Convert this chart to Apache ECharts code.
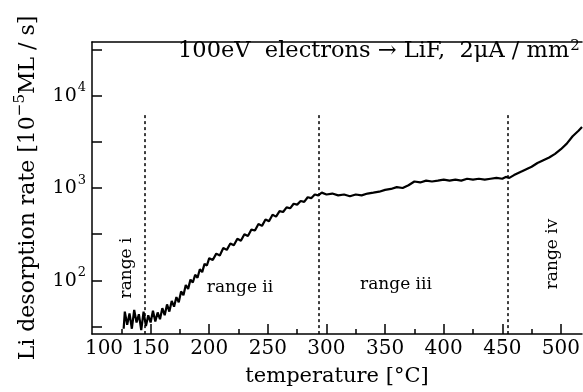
<!DOCTYPE html>
<html>
<head>
<meta charset="utf-8">
<script src="https://cdn.jsdelivr.net/npm/echarts@6/dist/echarts.min.js"></script>
<style>
  html, body { margin: 0; padding: 0; background: #fff; }
  #chart { width: 583px; height: 392px; }
</style>
</head>
<body>
<div id="chart"></div>
<script>
// desorption curve (temperature in °C, rate in 10^-5 ML/s)
const temperature = [
  127, 128, 130, 132, 134, 136, 138, 140, 142, 144, 146, 148, 150, 152, 154, 156, 158, 160, 162,
  164, 166, 168, 170, 172, 174, 176, 178, 180, 182, 184, 186, 188, 190, 192, 194, 196, 198, 200, 203,
  206, 209, 212, 215, 218, 221, 224, 227, 230, 233, 236, 239, 242, 245, 248, 251, 254, 257, 260, 263,
  266, 269, 272, 275, 278, 281, 284, 287, 290, 293, 296, 300, 305, 310, 315, 320, 325, 330, 335, 340,
  345, 350, 355, 360, 365, 370, 375, 380, 385, 390, 395, 400, 405, 410, 415, 420, 425, 430, 435, 440,
  445, 450, 453, 456, 460, 465, 470, 475, 480, 485, 490, 495, 500, 505, 510, 515, 518
];
const rate = [
  30, 46, 33, 44, 30, 48, 35, 43, 29, 46, 32, 42, 35, 47, 36, 45, 38, 50, 42,
  55, 46, 60, 52, 66, 58, 76, 69, 89, 81, 102, 95, 115, 107, 132, 123, 151, 145, 174, 166,
  195, 186, 224, 214, 251, 240, 282, 269, 316, 302, 355, 347, 407, 389, 457, 437, 513, 490, 562, 550,
  617, 603, 676, 661, 724, 708, 794, 776, 851, 832, 891, 851, 871, 832, 851, 813, 851, 832, 871, 891,
  912, 955, 977, 1023, 1000, 1072, 1175, 1148, 1202, 1175, 1202, 1230, 1202, 1230, 1202, 1259, 1230, 1259, 1230, 1259,
  1288, 1259, 1318, 1288, 1380, 1479, 1585, 1698, 1862, 1995, 2138, 2344, 2630, 3020, 3631, 4169, 4571
];

// dotted boundaries between the ranges
const rangeBounds = [145, 293, 455];
const boundTop = 6150;

// axis ticks and labels
const xLabels = [100, 150, 200, 250, 300, 350, 400, 450, 500];
const xMajorTicks = [150, 200, 250, 300, 350, 400, 450, 500];
const xMinorTicks = [125, 175, 225, 275, 325, 375, 425, 475];
const yTickExp = [1.5, 2, 2.5, 3, 3.5, 4, 4.5];
const yLabelExp = [2, 3, 4];

const xMin = 100, xMax = 518;
const yMinExp = 1.42, yMaxExp = 4.58;

const serif = 'DejaVu Serif';
const black = '#000';

const chart = echarts.init(document.getElementById('chart'));

const option = {
  animation: false,
  title: {
    text: '{a|100eV  electrons \u2192 LiF,  2\u03bcA / mm}{s|2}',
    left: 178,
    top: 40,
    padding: 0,
    textStyle: {
      fontWeight: 'normal',
      rich: {
        a: { fontFamily: serif, fontSize: 22.5, fontWeight: 'normal', color: black, lineHeight: 23, verticalAlign: 'bottom' },
        s: { fontFamily: serif, fontSize: 15, fontWeight: 'normal', color: black, lineHeight: 16, padding: [0, 0, 9, 1], verticalAlign: 'bottom' }
      }
    }
  },
  grid: { left: 92, right: 0, top: 42, bottom: 58 },
  xAxis: [
    {
      type: 'value', min: xMin, max: xMax, position: 'bottom',
      name: 'temperature [\u00b0C]', nameLocation: 'middle', nameGap: 32,
      nameTextStyle: { fontFamily: serif, fontSize: 21, color: black },
      axisLine: { lineStyle: { color: black, width: 1.5 } },
      axisTick: { inside: true, length: 10, customValues: xMajorTicks, lineStyle: { color: black, width: 1.5 } },
      axisLabel: {
        customValues: xLabels, margin: 5, color: black, fontFamily: serif, fontSize: 20,
        formatter: v => v === 100 ? '{f|100}' : String(v),
        rich: { f: { fontFamily: serif, fontSize: 20, color: black, padding: [0, 0, 0, 24] } }
      },
      splitLine: { show: false }
    },
    {
      type: 'value', min: xMin, max: xMax, position: 'bottom',
      axisLine: { show: false },
      axisTick: { inside: true, length: 5, customValues: xMinorTicks, lineStyle: { color: black, width: 1.5 } },
      axisLabel: { show: false },
      splitLine: { show: false }
    },
    {
      type: 'value', min: xMin, max: xMax, position: 'top',
      axisLine: { lineStyle: { color: black, width: 1.5 } },
      axisTick: { show: false },
      axisLabel: { show: false },
      splitLine: { show: false }
    }
  ],
  yAxis: [
    {
      type: 'log', min: Math.pow(10, yMinExp), max: Math.pow(10, yMaxExp), position: 'left',
      axisLine: { show: false }, axisTick: { show: false }, axisLabel: { show: false },
      splitLine: { show: false }
    },
    {
      type: 'value', min: yMinExp, max: yMaxExp, position: 'left',
      name: '{a|Li desorption rate [10}{s|\u22125}{a|ML / s]}',
      nameLocation: 'middle', nameRotate: 90, nameGap: 53,
      nameTextStyle: {
        rich: {
          a: { fontFamily: serif, fontSize: 22, color: black, lineHeight: 24, verticalAlign: 'bottom' },
          s: { fontFamily: serif, fontSize: 15, color: black, lineHeight: 16, padding: [0, 0, 11, 0], verticalAlign: 'bottom' }
        }
      },
      axisLine: { lineStyle: { color: black, width: 1.5 } },
      axisTick: { inside: true, length: 10, customValues: yTickExp, lineStyle: { color: black, width: 1.5 } },
      axisLabel: {
        customValues: yLabelExp, margin: 6,
        formatter: v => '{b|10}{s|' + v + '}',
        rich: {
          b: { fontFamily: serif, fontSize: 19, color: black, lineHeight: 20, verticalAlign: 'bottom' },
          s: { fontFamily: serif, fontSize: 13, color: black, lineHeight: 14, padding: [0, 0, 11, 1], verticalAlign: 'bottom' }
        }
      },
      splitLine: { show: false }
    }
  ],
  graphic: [
    { type: 'text', x: 127, y: 268, rotation: Math.PI / 2,
      style: { text: 'range i', font: '17px "DejaVu Serif"', fill: black, align: 'center', verticalAlign: 'middle' } },
    { type: 'text', x: 240, y: 288,
      style: { text: 'range ii', font: '17px "DejaVu Serif"', fill: black, align: 'center', verticalAlign: 'middle' } },
    { type: 'text', x: 396, y: 285,
      style: { text: 'range iii', font: '17px "DejaVu Serif"', fill: black, align: 'center', verticalAlign: 'middle' } },
    { type: 'text', x: 553, y: 254, rotation: Math.PI / 2,
      style: { text: 'range iv', font: '17px "DejaVu Serif"', fill: black, align: 'center', verticalAlign: 'middle' } }
  ],
  series: [
    {
      type: 'line',
      xAxisIndex: 0,
      yAxisIndex: 0,
      data: temperature.map((t, i) => [t, rate[i]]),
      showSymbol: false,
      lineStyle: { color: black, width: 2.2 },
      markLine: {
        silent: true,
        symbol: ['none', 'none'],
        label: { show: false },
        lineStyle: { type: [3, 3], color: black, width: 1.5 },
        data: rangeBounds.map(x => [
          { coord: [x, boundTop] },
          { coord: [x, Math.pow(10, yMinExp)] }
        ])
      }
    }
  ]
};

chart.setOption(option);
</script>
</body>
</html>
